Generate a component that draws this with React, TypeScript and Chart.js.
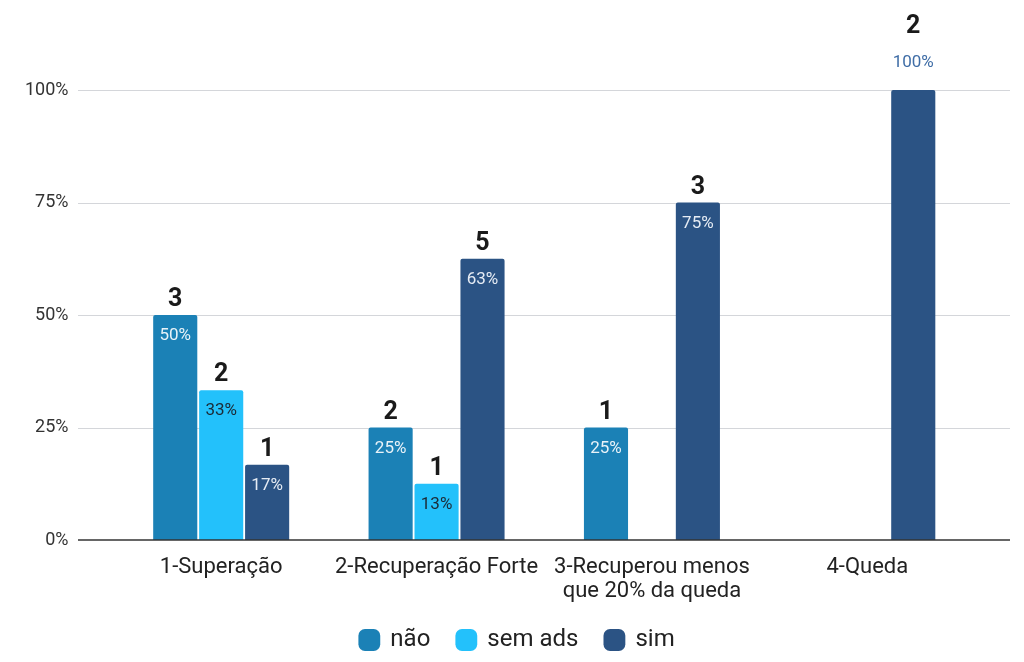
import React, { useEffect, useRef } from "react";
import { Chart, registerables } from "chart.js";

Chart.register(...registerables);

const categories: (string | string[])[] = [
  "1-Superação",
  "2-Recuperação Forte",
  ["3-Recuperou menos", "que 20% da queda"],
  "4-Queda",
];
const seriesNames = ["não", "sem ads", "sim"];
const naoValues = [0.5, 0.25, 0.25, null];
const semAdsValues = [0.333, 0.125, null, null];
const simValues = [0.167, 0.625, 0.75, 1.0];
const naoCounts = [3, 2, 1, null];
const semAdsCounts = [2, 1, null, null];
const simCounts = [1, 5, 3, 2];
const yTicks = [0, 0.25, 0.5, 0.75, 1];

const colors = ["#1b81b6", "#23c1fb", "#2b5384"];
const pctTextColors = ["#e8f2f8", "#1c2a36", "#e6ecf4"];
const FONT = "Roboto, 'Liberation Sans', Arial, sans-serif";

const gridPlugin = {
  id: "customGrid",
  afterLayout(chart: any) {
    const lg = chart.legend;
    if (lg) {
      lg.left += 30;
      lg.right += 30;
    }
    const xs = chart.scales.x;
    if (xs) {
      xs.bottom += 20;
      xs.height += 20;
    }
  },
  beforeDatasetsDraw(chart: any) {
    const { ctx } = chart;
    const y = chart.scales.y;
    ctx.save();
    yTicks.forEach((t) => {
      if (t === 0) return;
      const py = Math.round(y.getPixelForValue(t)) + 0.5;
      ctx.beginPath();
      ctx.strokeStyle = "#d4d6da";
      ctx.lineWidth = 1;
      ctx.moveTo(78, py);
      ctx.lineTo(1010, py);
      ctx.stroke();
    });
    ctx.restore();
  },
  afterDatasetsDraw(chart: any) {
    const { ctx } = chart;
    const y = chart.scales.y;
    const py = y.getPixelForValue(0);
    ctx.save();
    ctx.strokeStyle = "#333333";
    ctx.lineWidth = 1.5;
    ctx.beginPath();
    ctx.moveTo(78, py);
    ctx.lineTo(1010, py);
    ctx.stroke();
    ctx.restore();
  },
};

const countsBySeries = [naoCounts, semAdsCounts, simCounts];

const labelPlugin = {
  id: "barLabels",
  afterDatasetsDraw(chart: any) {
    const { ctx } = chart;
    ctx.save();
    ctx.textAlign = "center";
    ctx.textBaseline = "middle";
    chart.data.datasets.forEach((ds: any, di: number) => {
      const meta = chart.getDatasetMeta(di);
      meta.data.forEach((bar: any, i: number) => {
        const v = ds.data[i];
        if (v === null || v === undefined) return;
        const pct = Math.round(v * 100) + "%";
        const cnt = countsBySeries[di][i];
        const x = bar.x;
        const top = bar.y;
        if (v >= 1) {
          ctx.font = `17px ${FONT}`;
          ctx.fillStyle = "#3f6da6";
          ctx.fillText(pct, x, top - 27);
          ctx.font = `bold 25px ${FONT}`;
          ctx.fillStyle = "#1a1a1a";
          ctx.fillText(String(cnt), x, top - 63);
        } else {
          ctx.font = `17px ${FONT}`;
          ctx.fillStyle = pctTextColors[di];
          ctx.fillText(pct, x, top + 21);
          ctx.font = `bold 25px ${FONT}`;
          ctx.fillStyle = "#1a1a1a";
          ctx.fillText(String(cnt), x, top - 15);
        }
      });
    });
    ctx.restore();
  },
};

export default function App() {
  const canvasRef = useRef<HTMLCanvasElement | null>(null);

  useEffect(() => {
    if (!canvasRef.current) return;
    const allValues = [naoValues, semAdsValues, simValues];
    const chart = new Chart(canvasRef.current, {
      type: "bar",
      data: {
        labels: categories,
        datasets: seriesNames.map((name, i) => ({
          label: name,
          data: allValues[i],
          backgroundColor: colors[i],
          borderRadius: { topLeft: 2, topRight: 2, bottomLeft: 0, bottomRight: 0 },
          borderSkipped: false,
          categoryPercentage: 0.64,
          barPercentage: 0.96,
        })),
      },
      options: {
        animation: false,
        responsive: true,
        maintainAspectRatio: false,
        layout: { padding: { top: 90, right: 49, left: 0, bottom: 0 } },
        plugins: {
          tooltip: { enabled: false },
          legend: {
            position: "bottom",
            labels: {
              font: { family: FONT, size: 24 },
              color: "#222222",
              boxWidth: 18,
              boxHeight: 18,
              usePointStyle: true,
              pointStyle: "rectRounded",
              padding: 27,
            },
          },
        },
        scales: {
          x: {
            grid: { display: false, drawTicks: false },
            border: { display: false },
            ticks: {
              font: { family: FONT, size: 22, lineHeight: 1.1 },
              color: "#222222",
              padding: 15,
              maxRotation: 0,
              autoSkip: false,
            },
            afterFit(scale: any) {
              scale.height = 61;
            },
          },
          y: {
            min: 0,
            max: 1,
            grid: { display: false, drawTicks: false },
            border: { display: false },
            afterBuildTicks(scale: any) {
              scale.ticks = yTicks.map((v) => ({ value: v }));
            },
            ticks: {
              font: { family: FONT, size: 18 },
              color: "#333333",
              padding: 45,
              callback: (v: any) => Math.round(Number(v) * 100) + "%",
            },
            afterFit(scale: any) {
              scale.width = 113.5;
            },
          },
        },
      },
      plugins: [gridPlugin, labelPlugin],
    });
    return () => chart.destroy();
  }, []);

  return (
    <div style={{ position: "fixed", left: 0, top: 0, width: 1024, height: 662, background: "#fff" }}>
      <canvas ref={canvasRef} />
    </div>
  );
}
